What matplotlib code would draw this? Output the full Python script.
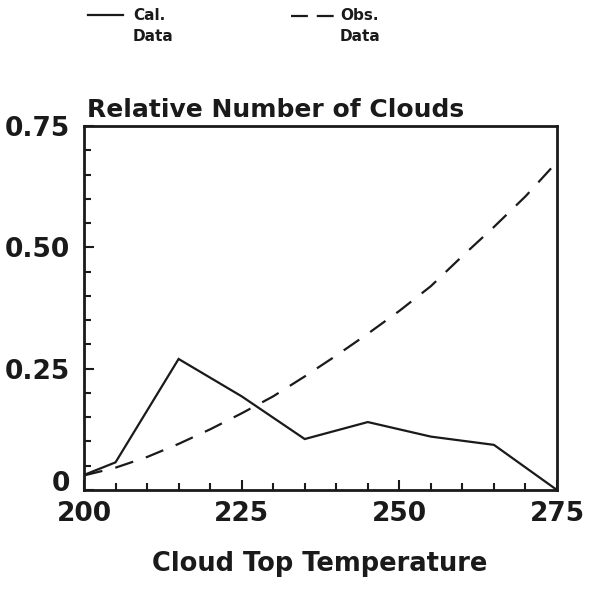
import matplotlib
matplotlib.use("Agg")
import matplotlib.pyplot as plt
from matplotlib.lines import Line2D
from matplotlib.ticker import MultipleLocator
from matplotlib.transforms import ScaledTranslation

# Data
cal_temp = [200, 205, 215, 225, 235, 245, 255, 265, 275]
cal_vals = [0.031, 0.057, 0.270, 0.193, 0.105, 0.140, 0.110, 0.093, 0.0]

obs_temp = [200, 205, 210, 215, 220, 225, 230, 235, 240, 245, 250, 255, 260, 265, 270, 275]
obs_vals = [0.030, 0.046, 0.068, 0.095, 0.125, 0.158, 0.193, 0.234, 0.277, 0.322,
            0.369, 0.420, 0.482, 0.542, 0.605, 0.676]

x_ticks = [200, 225, 250, 275]
x_tick_labels = ["200", "225", "250", "275"]
y_ticks = [0, 0.25, 0.50, 0.75]
y_tick_labels = ["0", "0.25", "0.50", "0.75"]

title = "Relative Number of Clouds"
xlabel = "Cloud Top Temperature"
legend_labels = ["Cal.\nData", "Obs.\nData"]

plt.rcParams['font.family'] = ['DejaVu Sans']

fig = plt.figure(figsize=(5.89, 6.07), dpi=100)
ax = fig.add_axes([84/589, 1-490/607, (557-84)/589, (490-126)/607])

lc = "#1a1a1a"
ax.plot(cal_temp, cal_vals, color=lc, lw=1.6, solid_joinstyle='miter')
ax.plot(obs_temp, obs_vals, color=lc, lw=1.6, dashes=(8.5, 6))

ax.set_xlim(200, 275)
ax.set_ylim(0, 0.75)

ax.set_xticks(x_ticks)
ax.set_xticklabels(x_tick_labels, fontsize=19, fontweight='bold', color=lc)
ax.set_yticks(y_ticks)
ax.set_yticklabels(y_tick_labels, fontsize=19, fontweight='bold', color=lc)
ax.xaxis.set_minor_locator(MultipleLocator(5))
ax.yaxis.set_minor_locator(MultipleLocator(0.05))
ax.tick_params(axis='both', which='both', direction='in', top=False, right=False,
               color=lc, width=1.5)
ax.tick_params(axis='both', which='major', length=7, pad=8)
ax.tick_params(axis='both', which='minor', length=5)
ax.tick_params(axis='y', which='major', pad=10)
for s in ax.spines.values():
    s.set_linewidth(2)
    s.set_color(lc)

# the "0" label sits slightly above the axis line in the reference
fig.canvas.draw()
zero_tick = ax.yaxis.get_major_ticks()[0]
zero_tick.label1.set_transform(zero_tick.label1.get_transform() +
                               ScaledTranslation(0, 9/100, fig.dpi_scale_trans))

ax.text(0.006, 1.012, title, transform=ax.transAxes, ha='left', va='bottom',
        fontsize=18, fontweight='bold', color=lc)

fig.text(320/589, 1-564/607, xlabel, ha='center', va='center',
         fontsize=18.5, fontweight='bold', color=lc)

# Legend
fig.add_artist(Line2D([88/589, 123/589], [1-15/607, 1-15/607], color=lc, lw=1.6))
fig.add_artist(Line2D([291/589, 334/589], [1-16/607, 1-16/607], color=lc, lw=1.6,
                      dashes=(7.6, 4)))
fig.text(133/589, 1-8/607, legend_labels[0], ha='left', va='top', fontsize=11,
         fontweight='bold', color=lc, linespacing=1.5)
fig.text(340/589, 1-8/607, legend_labels[1], ha='left', va='top', fontsize=11,
         fontweight='bold', color=lc, linespacing=1.5)

fig.savefig("out.png", dpi=100)
